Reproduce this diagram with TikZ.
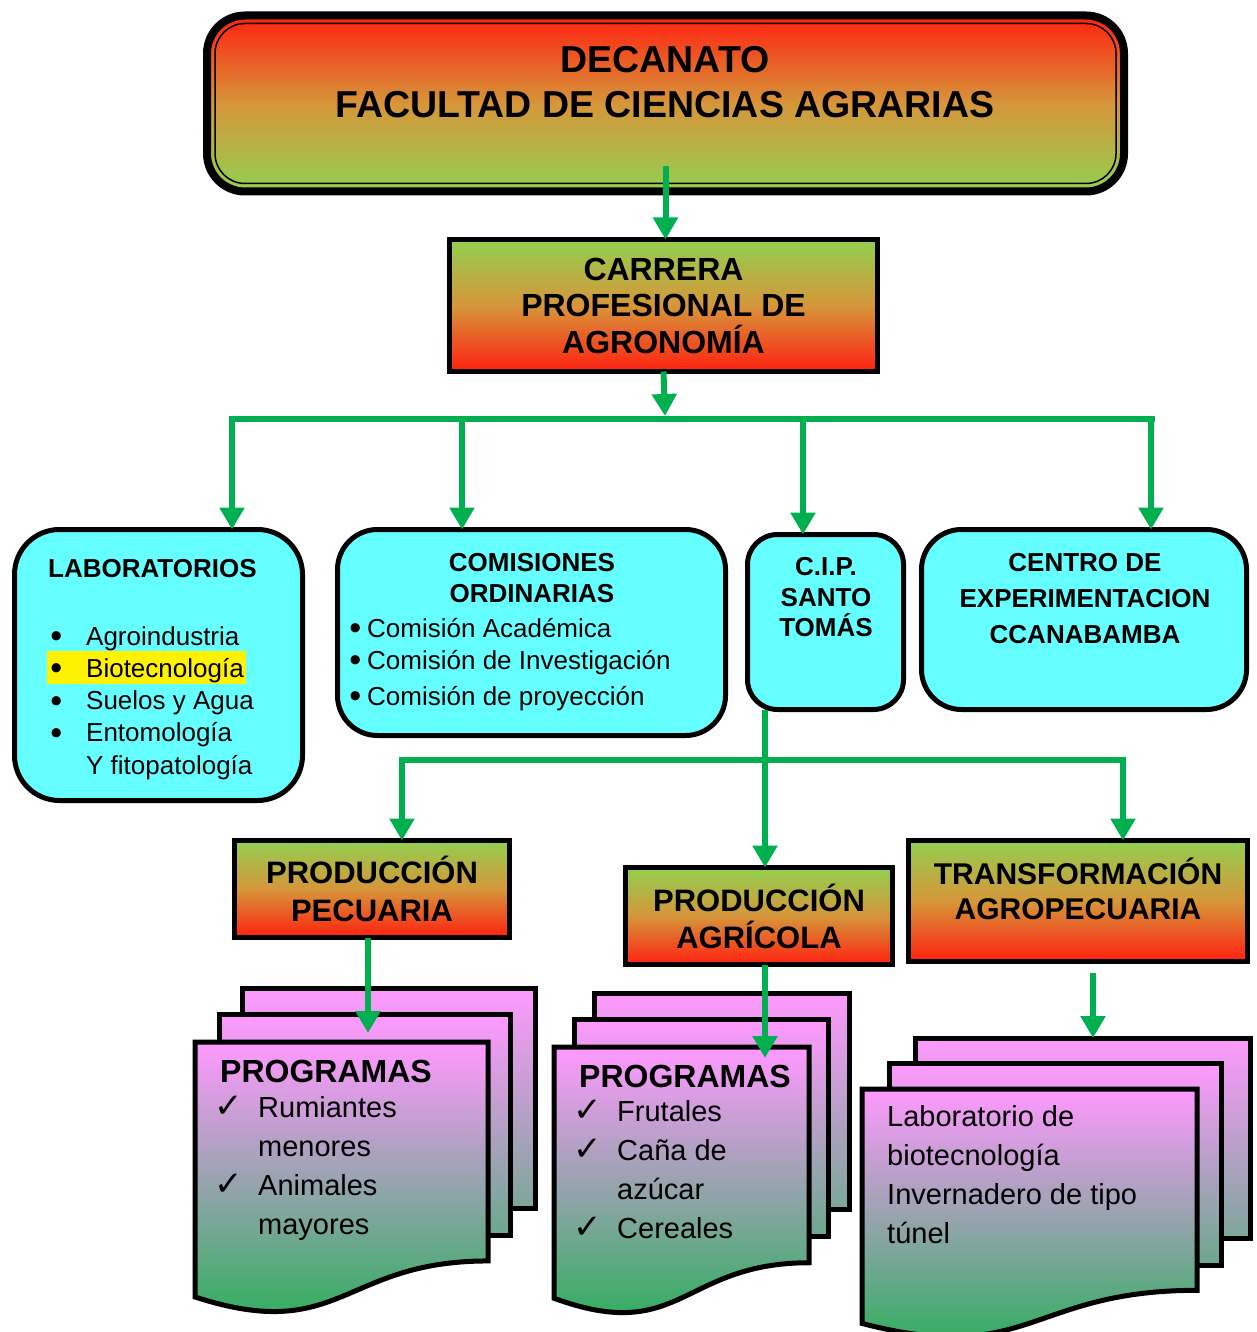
\documentclass[tikz,border=0pt]{standalone}
\usepackage{fontspec}
\setmainfont{Liberation Sans}
\newfontfamily\symfont{DejaVu Sans}
\usetikzlibrary{arrows.meta,calc}

\definecolor{rojo}{RGB}{255,32,16}
\definecolor{verdeclaro}{RGB}{146,208,80}
\definecolor{naranja}{RGB}{214,150,58}
\definecolor{celeste}{RGB}{102,255,255}
\definecolor{rosa}{RGB}{255,153,255}
\definecolor{verdedoc}{RGB}{30,176,80}
\definecolor{verdeflecha}{RGB}{0,176,80}

\newcommand{\tam}[2]{\fontsize{#1}{#2}\selectfont}
\newcommand{\chk}{\llap{{\symfont\tam{34}{34}✓}\hspace{15pt}}}
\newcommand{\pto}{\raisebox{-2.5pt}{\tam{34}{34}\textbullet}}
% hoja frontal con borde inferior ondulado: x, y, ancho, alto
\newcommand{\hoja}[4]{%
  \draw[pagina] (#1,#2) -- ({#1+#3},#2) -- ({#1+#3},{#2+0.802*#4})
    .. controls ({#1+0.5*#3},{#2+0.802*#4}) and ({#1+0.5*#3},{#2+1.1075*#4}) .. (#1,{#2+0.934*#4}) -- cycle;}

\begin{document}
\begin{tikzpicture}[x=1pt,y=-1pt,
    caja/.style={draw,line width=5pt,inner sep=0pt,outer sep=0pt},
    celda/.style={caja,rounded corners=40pt,fill=celeste},
    grad/.style={caja,top color=verdeclaro,bottom color=rojo,middle color=naranja},
    pagina/.style={draw,line width=5pt,top color=rosa,bottom color=verdedoc},
    atras/.style={pagina,bottom color=rosa!42!verdedoc},
    medio/.style={pagina,bottom color=rosa!34!verdedoc},
    linea/.style={verdeflecha,line width=6pt,line cap=rect},
    conector/.style={verdeflecha,line width=6pt,-{Triangle[width=24pt,length=22pt]}},
    titulo/.style={font=\tam{26}{31}\bfseries,inner sep=0pt},
    lista/.style={font=\tam{26}{32},inner sep=0pt},
    programa/.style={font=\tam{29}{39},inner sep=0pt}]
  \useasboundingbox (0,0) rectangle (1257,1332);

  % decanato
  \node[caja,line width=8pt,rounded corners=38pt,minimum width=917pt,minimum height=176pt,
    top color=rojo,bottom color=verdeclaro,middle color=naranja] (decanato) at (665.5,103.5) {};
  \draw[line width=1.5pt,rounded corners=30pt] ($(decanato.north west)+(8,8)$) rectangle ($(decanato.south east)+(-8,-8)$);
  \node[font=\tam{37.5}{45}\bfseries,align=center] (dectexto) at (665,82.5) {DECANATO\\FACULTAD DE CIENCIAS AGRARIAS};

  \node[grad,minimum width=428pt,minimum height=132pt,font=\tam{32}{36.5}\bfseries,align=center]
    (carrera) at (663.5,305.5) {CARRERA\\PROFESIONAL DE\\AGRONOMÍA};

  % segundo nivel
  \node[celda,rounded corners=45pt,minimum width=288pt,minimum height=271pt] (lab) at (158.5,665) {};
  \node[celda,minimum width=388pt,minimum height=206pt] (comis) at (531.5,632.5) {};
  \node[celda,rounded corners=30pt,minimum width=156pt,minimum height=175pt] (cip) at (825.5,622) {};
  \node[celda,minimum width=325pt,minimum height=180pt] (centro) at (1084,619.5) {};

  \node[titulo,anchor=base west] (labtit) at (48,577) {LABORATORIOS};
  \fill[yellow] (47,651) rectangle (246,684);
  \foreach \t [count=\i] in {Agroindustria,Biotecnología,Suelos y Agua,Entomología}
    \node[lista,anchor=base west] (lab\i) at (86,{612.7+32.3*\i}) {\llap{\pto\hspace{24pt}}\t};
  \node[lista,anchor=base west] (lab5) at (86,774) {Y fitopatología};

  \node[titulo,align=center] (comtit) at (532,578.5) {COMISIONES\\ORDINARIAS};
  \foreach \t/\yy [count=\i] in {Comisión Académica/637,Comisión de Investigación/669,Comisión de proyección/705}
    \node[lista,anchor=base west] (com\i) at (367,\yy) {\llap{\pto\hspace{6pt}}\t};

  \node[titulo,font=\tam{26}{30.5}\bfseries,align=center] (ciptexto) at (826,597.5) {C.I.P.\\SANTO\\TOMÁS};
  \node[titulo,font=\tam{26}{36}\bfseries,align=center] (centrotexto) at (1085,599) {CENTRO DE\\EXPERIMENTACION\\CCANABAMBA};

  % tercer nivel
  \node[grad,minimum width=275pt,minimum height=97pt,font=\tam{31}{38}\bfseries,align=center]
    (pecuaria) at (372,889) {PRODUCCIÓN\\PECUARIA};
  \node[grad,minimum width=267pt,minimum height=97pt,font=\tam{31}{37}\bfseries,align=center]
    (agricola) at (759,916) {PRODUCCIÓN\\AGRÍCOLA};
  \node[grad,minimum width=339pt,minimum height=121pt] (transf) at (1078,901) {};
  \node[font=\tam{30}{35}\bfseries,align=center] (transftexto) at (1078,888.5) {TRANSFORMACIÓN\\AGROPECUARIA};

  % programas
  \draw[atras] (242,988) rectangle (535,1208);
  \draw[medio] (219,1014) rectangle (510,1235);
  \hoja{195}{1042}{293}{273}
  \draw[atras] (594,993) rectangle (849,1209);
  \draw[medio] (574,1019) rectangle (828,1236);
  \hoja{554}{1047}{255}{269}
  \draw[atras] (915,1038) rectangle (1250,1238);
  \draw[medio] (889,1063) rectangle (1221,1265);
  \hoja{862}{1089}{335}{251}

  \node[font=\tam{32}{39}\bfseries,inner sep=0pt,anchor=base west] (prog1tit) at (220,1082.5) {PROGRAMAS};
  \node[programa,anchor=base west] (p1a) at (258,1117) {\chk Rumiantes};
  \node[programa,anchor=base west] (p1b) at (258,1156) {menores};
  \node[programa,anchor=base west] (p1c) at (258,1195) {\chk Animales};
  \node[programa,anchor=base west] (p1d) at (258,1234) {mayores};

  \node[font=\tam{32}{39}\bfseries,inner sep=0pt,anchor=base west] (prog2tit) at (579,1087) {PROGRAMAS};
  \node[programa,anchor=base west] (p2a) at (617,1121) {\chk Frutales};
  \node[programa,anchor=base west] (p2b) at (617,1160) {\chk Caña de};
  \node[programa,anchor=base west] (p2c) at (617,1199) {azúcar};
  \node[programa,anchor=base west] (p2d) at (617,1238) {\chk Cereales};

  \foreach \t/\yy [count=\i] in {Laboratorio de/1126,biotecnología/1165,Invernadero de tipo/1204,túnel/1243}
    \node[programa,anchor=base west] (p3\i) at (887,\yy) {\t};

  % conectores
  \coordinate (bus1) at (665,419);
  \coordinate (busL) at (232,419);
  \coordinate (busR) at (1152,419);
  \coordinate (bus2L) at (402,760);
  \coordinate (bus2R) at (1123,760);
  \coordinate (prog1) at (368,1033);
  \coordinate (prog2) at (765,1058);
  \coordinate (prog3) at (1093,1038);

  \draw[conector] ([yshift=25pt]decanato.south) -- (decanato.south |- carrera.north);
  \draw[conector] (carrera.south) -- ([yshift=3pt]bus1);
  \draw[linea] (busL) -- (busR);
  \foreach \xx/\dest in {232/lab,462/comis,803/cip,1151/centro}{
    \coordinate (b\dest) at (\xx,419);
    \draw[conector] (b\dest) -- (b\dest |- \dest.north);
  }
  \draw[conector] (prog2 |- cip.south) -- (prog2 |- agricola.north);
  \draw[linea] (bus2L) -- (bus2R);
  \draw[conector] (bus2L) -- (bus2L |- pecuaria.north);
  \draw[conector] (bus2R) -- (bus2R |- transf.north);

  \draw[conector] (prog1 |- pecuaria.south) -- (prog1);
  \draw[conector] (prog2 |- agricola.south) -- (prog2);
  \draw[conector] (prog3 |- transf.south) ++(0,11) -- (prog3);
\end{tikzpicture}
\end{document}
